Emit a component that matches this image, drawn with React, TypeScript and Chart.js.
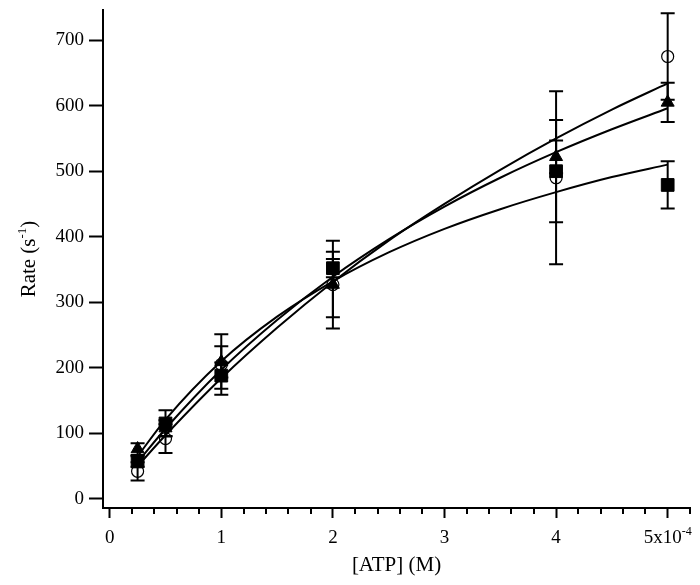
import React, { useEffect, useRef } from 'react';
import { Chart, registerables } from 'chart.js';

Chart.register(...registerables);

const FONT = "'Liberation Serif', 'Times New Roman', serif";

// Measured data: [ATP] (M) and rates (s^-1)
const atpConc = [2.5e-5, 5e-5, 1e-4, 2e-4, 4e-4, 5e-4];
const circleRate = [42, 92, 205, 327, 490, 675];
const circleErr = [14, 22, 46, 67, 132, 66];
const triangleRate = [76, 108, 209, 327, 522, 605];
const triangleErr = [9, 12, 24, 50, 25, 30];
const squareRate = [57, 115, 188, 352, 500, 479];
const squareErr = [8, 20, 20, 14, 78, 36];

// Fitted curves
const fitConc = [2.5e-5, 5e-5, 1e-4, 1.5e-4, 2e-4, 2.5e-4, 3e-4, 3.5e-4, 4e-4, 4.5e-4, 5e-4];
const circleFit = [50, 97, 184, 261, 331, 394, 450, 502, 550, 594, 634];
const triangleFit = [56, 107, 197, 273, 339, 396, 446, 490, 529, 564, 596];
const squareFit = [65, 121, 210, 278, 332, 376, 412, 442, 468, 491, 510];

// Axis ticks
const yTicks = [0, 100, 200, 300, 400, 500, 600, 700];
const xMajorTicks = [0, 1e-4, 2e-4, 3e-4, 4e-4, 5e-4];
const xTickLabels = ['0', '1', '2', '3', '4', '5x10'];
const xLastTickSup = '-4';
const xMinorTicks = [
  2e-5, 4e-5, 6e-5, 8e-5, 1.2e-4, 1.4e-4, 1.6e-4, 1.8e-4, 2.2e-4, 2.4e-4, 2.6e-4, 2.8e-4,
  3.2e-4, 3.4e-4, 3.6e-4, 3.8e-4, 4.2e-4, 4.4e-4, 4.6e-4, 4.8e-4, 5.2e-4,
];

type Part = { t: string; sup?: boolean };

function partFont(p: Part, size: number) {
  return `${p.sup ? Math.round(size * 0.62) : size}px ${FONT}`;
}

function measureParts(ctx: CanvasRenderingContext2D, parts: Part[], size: number) {
  let w = 0;
  for (const p of parts) {
    ctx.font = partFont(p, size);
    w += ctx.measureText(p.t).width;
  }
  return w;
}

function drawParts(ctx: CanvasRenderingContext2D, parts: Part[], cx: number, baseline: number, size: number) {
  const w = measureParts(ctx, parts, size);
  let x = cx - w / 2;
  ctx.textAlign = 'left';
  ctx.textBaseline = 'alphabetic';
  for (const p of parts) {
    ctx.font = partFont(p, size);
    ctx.fillText(p.t, x, p.sup ? baseline - size * 0.42 : baseline);
    x += ctx.measureText(p.t).width;
  }
}

const errorBarPlugin = {
  id: 'errorBars',
  beforeDatasetsDraw(chart: any) {
    const ctx: CanvasRenderingContext2D = chart.ctx;
    const xs = chart.scales.x;
    const ys = chart.scales.y;
    const sets = [
      { rate: circleRate, err: circleErr },
      { rate: triangleRate, err: triangleErr },
      { rate: squareRate, err: squareErr },
    ];
    ctx.save();
    ctx.strokeStyle = '#000';
    ctx.lineWidth = 2;
    for (const s of sets) {
      for (let i = 0; i < atpConc.length; i++) {
        const px = xs.getPixelForValue(atpConc[i]);
        const yT = ys.getPixelForValue(s.rate[i] + s.err[i]);
        const yB = ys.getPixelForValue(s.rate[i] - s.err[i]);
        ctx.beginPath();
        ctx.moveTo(px, yT);
        ctx.lineTo(px, yB);
        ctx.moveTo(px - 7, yT);
        ctx.lineTo(px + 7, yT);
        ctx.moveTo(px - 7, yB);
        ctx.lineTo(px + 7, yB);
        ctx.stroke();
      }
    }
    ctx.restore();
  },
};

const decorPlugin = {
  id: 'decor',
  afterDraw(chart: any) {
    const ctx: CanvasRenderingContext2D = chart.ctx;
    const xs = chart.scales.x;
    const ca = chart.chartArea;
    ctx.save();
    ctx.strokeStyle = '#000';
    ctx.fillStyle = '#000';
    ctx.lineWidth = 2;
    // minor ticks on x
    for (const v of xMinorTicks) {
      const px = Math.round(xs.getPixelForValue(v));
      ctx.beginPath();
      ctx.moveTo(px, ca.bottom);
      ctx.lineTo(px, ca.bottom + 6);
      ctx.stroke();
    }
    // x tick labels
    for (let i = 0; i < xMajorTicks.length; i++) {
      const px = xs.getPixelForValue(xMajorTicks[i]);
      const parts: Part[] = [{ t: xTickLabels[i] }];
      if (i === xMajorTicks.length - 1) parts.push({ t: xLastTickSup, sup: true });
      drawParts(ctx, parts, px, ca.bottom + 35, 19);
    }
    // x title
    drawParts(ctx, [{ t: '[ATP] (M)' }], (ca.left + ca.right) / 2, 571, 21);
    // y title
    ctx.translate(35, (ca.top + ca.bottom) / 2);
    ctx.rotate(-Math.PI / 2);
    drawParts(ctx, [{ t: 'Rate (s' }, { t: '-1', sup: true }, { t: ')' }], 0, 0, 21);
    ctx.restore();
  },
};

export default function App() {
  const ref = useRef<HTMLCanvasElement | null>(null);

  useEffect(() => {
    if (!ref.current) return;
    const line = (ys: number[]) => ({
      type: 'line' as const,
      data: fitConc.map((x, i) => ({ x, y: ys[i] })),
      borderColor: '#000',
      borderWidth: 2,
      pointRadius: 0,
      fill: false,
      showLine: true,
      cubicInterpolationMode: 'monotone' as const,
    });
    const chart = new Chart(ref.current, {
      type: 'scatter',
      data: {
        datasets: [
          line(circleFit) as any,
          line(triangleFit) as any,
          line(squareFit) as any,
          {
            data: atpConc.map((x, i) => ({ x, y: circleRate[i] })),
            pointStyle: 'circle',
            pointRadius: 6,
            backgroundColor: 'rgba(255,255,255,0)',
            borderColor: '#000',
            borderWidth: 1.2,
            showLine: false,
          },
          {
            data: atpConc.map((x, i) => ({ x, y: triangleRate[i] })),
            pointStyle: 'triangle',
            pointRadius: 7.5,
            backgroundColor: '#000',
            borderColor: '#000',
            borderWidth: 1,
            showLine: false,
          },
          {
            data: atpConc.map((x, i) => ({ x, y: squareRate[i] })),
            pointStyle: 'rect',
            pointRadius: 9,
            backgroundColor: '#000',
            borderColor: '#000',
            borderWidth: 1,
            showLine: false,
          },
        ],
      },
      options: {
        responsive: false,
        animation: false,
        devicePixelRatio: 1,
        layout: { padding: { top: 8, right: 3, left: 0, bottom: 0 } },
        plugins: { legend: { display: false }, tooltip: { enabled: false } },
        scales: {
          x: {
            type: 'linear',
            min: -0.06e-4,
            max: 5.2e-4,
            afterBuildTicks: (s: any) => {
              s.ticks = xMajorTicks.map((v) => ({ value: v }));
            },
            ticks: { display: false },
            grid: { drawOnChartArea: false, drawTicks: true, tickLength: 10, tickWidth: 2, tickColor: '#000' },
            border: { display: true, color: '#000', width: 2 },
            afterFit: (s: any) => {
              s.height = 77;
              s.paddingLeft = 0;
              s.paddingRight = 0;
            },
          },
          y: {
            type: 'linear',
            min: -14,
            max: 746,
            afterBuildTicks: (s: any) => {
              s.ticks = yTicks.map((v) => ({ value: v }));
            },
            ticks: { color: '#000', font: { family: FONT, size: 19 }, padding: 5 },
            grid: { drawOnChartArea: false, drawTicks: true, tickLength: 14, tickWidth: 2, tickColor: '#000' },
            border: { display: true, color: '#000', width: 2 },
            afterFit: (s: any) => {
              s.width = 103;
              s.paddingTop = 0;
              s.paddingBottom = 0;
            },
          },
        },
      },
      plugins: [errorBarPlugin, decorPlugin],
    } as any);
    return () => chart.destroy();
  }, []);

  return (
    <div style={{ position: 'fixed', left: 0, top: 0, width: 700, height: 585, background: '#fff' }}>
      <canvas ref={ref} width={700} height={585} style={{ display: 'block', width: 700, height: 585 }} />
    </div>
  );
}
